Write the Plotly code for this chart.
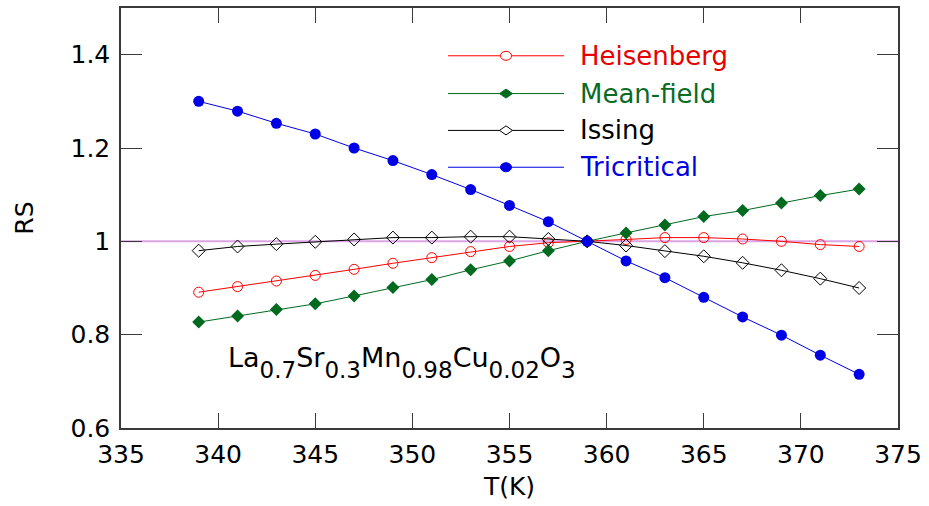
import plotly.graph_objects as go

T = [339, 341, 343, 345, 347, 349, 351, 353, 355, 357, 359, 361, 363, 365, 367, 369, 371, 373]
heisenberg = [0.891, 0.903, 0.915, 0.927, 0.940, 0.953, 0.965, 0.978, 0.989, 0.997, 1.000, 1.004,
              1.008, 1.008, 1.005, 1.000, 0.993, 0.989]
mean_field = [0.827, 0.840, 0.854, 0.866, 0.883, 0.901, 0.918, 0.939, 0.958, 0.980, 1.000, 1.018,
              1.035, 1.053, 1.066, 1.082, 1.098, 1.112]
ising = [0.980, 0.989, 0.994, 0.999, 1.004, 1.008, 1.008, 1.010, 1.010, 1.005, 1.000, 0.991,
         0.979, 0.968, 0.954, 0.938, 0.920, 0.900]
tricritical = [1.300, 1.279, 1.253, 1.230, 1.200, 1.173, 1.143, 1.111, 1.077, 1.042, 1.000, 0.958,
               0.922, 0.880, 0.838, 0.799, 0.756, 0.715]
ref_x = [335, 375]
ref_y = [1, 1]
x_ticks = [335, 340, 345, 350, 355, 360, 365, 370, 375]
y_ticks = [0.6, 0.8, 1.0, 1.2, 1.4]
y_tick_text = ["0.6", "0.8", "1", "1.2", "1.4"]
legend_names = ["Heisenberg", "Mean-field", "Issing", "Tricritical"]

RED = "#ff0000"
GREEN = "#006b1f"
BLUE = "#0000e6"
BLACK = "#000000"
FONT = "DejaVu Sans, Liberation Sans, Arial, sans-serif"
AXC = "#3a3a3a"

fig = go.Figure()
fig.add_trace(go.Scatter(x=ref_x, y=ref_y, mode="lines", line=dict(color="#dca4e4", width=2),
                         showlegend=False, hoverinfo="skip"))
fig.add_trace(go.Scatter(x=T, y=heisenberg, mode="lines+markers", name=legend_names[0],
                         line=dict(color=RED, width=1),
                         marker=dict(symbol="circle-open", size=10, color=RED, line=dict(width=1))))
fig.add_trace(go.Scatter(x=T, y=mean_field, mode="lines+markers", name=legend_names[1],
                         line=dict(color=GREEN, width=1),
                         marker=dict(symbol="diamond", size=10, color=GREEN)))
fig.add_trace(go.Scatter(x=T, y=ising, mode="lines+markers", name=legend_names[2],
                         line=dict(color=BLACK, width=1),
                         marker=dict(symbol="diamond-open", size=10, color=BLACK, line=dict(width=1))))
fig.add_trace(go.Scatter(x=T, y=tricritical, mode="lines+markers", name=legend_names[3],
                         line=dict(color=BLUE, width=1),
                         marker=dict(symbol="circle", size=11, color=BLUE)))

# ---- hand-drawn legend (long sample lines like the reference) ----
L_LEFT, L_TOP, L_W, L_H = 121, 6, 777, 422   # plot area in pixels (from margins)


def px(xp):
    return (xp - L_LEFT) / L_W


def py(yp):
    return (L_TOP + L_H - yp) / L_H


legend_rows = [
    (legend_names[0], RED, "#e60000", "circle-open"),
    (legend_names[1], GREEN, "#0a6b26", "diamond"),
    (legend_names[2], BLACK, "#000000", "diamond-open"),
    (legend_names[3], BLUE, "#0000e0", "circle"),
]
row_y = [54, 92, 129, 166]
for (name, col, tcol, sym), ry in zip(legend_rows, row_y):
    yy = py(ry)
    fig.add_shape(type="line", xref="paper", yref="paper", x0=px(448), x1=px(564), y0=yy, y1=yy,
                  line=dict(color=col, width=1))
    common = dict(xref="paper", yref="paper", xsizemode="pixel", ysizemode="pixel",
                  xanchor=px(506), yanchor=yy)
    fill = "white" if sym.endswith("open") else col
    if sym.startswith("circle"):
        fig.add_shape(type="circle", x0=-5.5, x1=5.5, y0=-4.5, y1=4.5,
                      fillcolor=fill, line=dict(color=col, width=1), **common)
    else:
        fig.add_shape(type="path", path="M -6.5 0 L 0 4.5 L 6.5 0 L 0 -4.5 Z",
                      fillcolor=fill, line=dict(color=col, width=1), **common)
    fig.add_annotation(x=px(578), y=yy, xref="paper", yref="paper", xanchor="left",
                       yanchor="middle", showarrow=False, text=name,
                       font=dict(family=FONT, size=26, color=tcol))

sub = '<sub><span style="font-size:23px;baseline-shift:-5px">{}</span></sub>'
formula = ("La" + sub.format("0.7") + "Sr" + sub.format("0.3") + "Mn" + sub.format("0.98")
           + "Cu" + sub.format("0.02") + "O" + sub.format("3"))
fig.add_annotation(x=px(226), y=py(362), xref="paper", yref="paper", xanchor="left",
                   yanchor="middle", showarrow=False, text=formula,
                   font=dict(family=FONT, size=27, color="black"))

axis_common = dict(showline=True, linecolor=AXC, linewidth=1.5, mirror="ticks",
                   ticks="inside", tickcolor=AXC, tickwidth=1.2,
                   showgrid=False, zeroline=False,
                   tickfont=dict(family=FONT, size=25, color="black"))

fig.update_xaxes(range=[335, 375], tickvals=x_ticks, ticklen=15, ticklabelstandoff=3,
                 title=dict(text="T(K)", font=dict(family=FONT, size=25, color="black"), standoff=10),
                 **axis_common)
fig.update_yaxes(range=[0.6, 1.5], tickvals=y_ticks, ticktext=y_tick_text, ticklen=21,
                 ticklabelstandoff=4,
                 title=dict(text="RS", font=dict(family=FONT, size=25, color="black"), standoff=30),
                 **axis_common)

fig.update_layout(
    width=929, height=506,
    margin=dict(l=121, r=31, t=6, b=78),
    paper_bgcolor="white", plot_bgcolor="white",
    font=dict(family=FONT, color="black"),
    showlegend=False,
)

fig.write_html("out.html")
